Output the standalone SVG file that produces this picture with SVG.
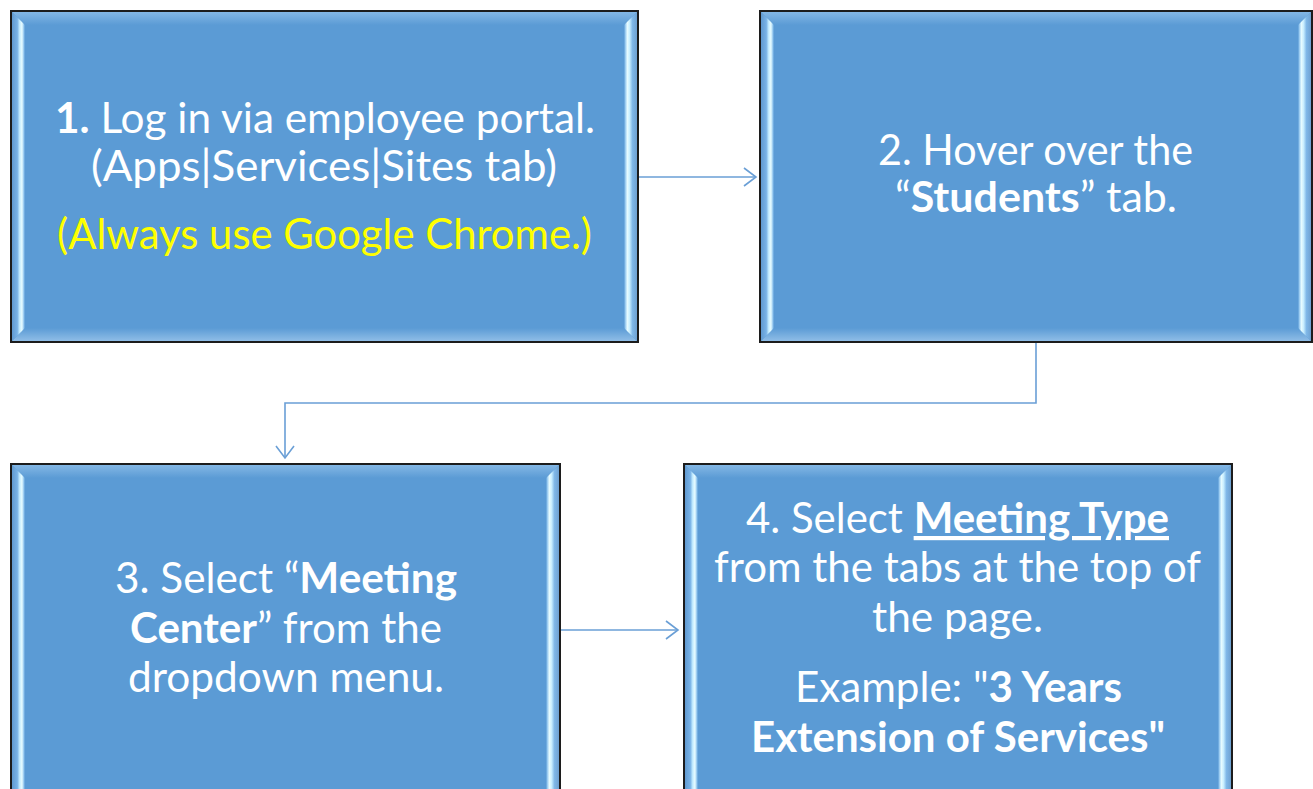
<svg xmlns="http://www.w3.org/2000/svg" width="1313" height="789" viewBox="0 0 1313 789">
  <defs>
    <linearGradient id="gL" x1="0" y1="0" x2="1" y2="0">
      <stop offset="0" stop-color="#5c95cc"/>
      <stop offset="0.45" stop-color="#78b2e6"/>
      <stop offset="0.62" stop-color="#c4ecff"/>
      <stop offset="0.78" stop-color="#e8fcff"/>
      <stop offset="0.92" stop-color="#8fc4ee"/>
      <stop offset="1" stop-color="#5b9bd5"/>
    </linearGradient>
    <linearGradient id="gR" x1="1" y1="0" x2="0" y2="0">
      <stop offset="0" stop-color="#6a9ccc"/>
      <stop offset="0.4" stop-color="#80b8e8"/>
      <stop offset="0.6" stop-color="#c8eeff"/>
      <stop offset="0.76" stop-color="#e8fcff"/>
      <stop offset="0.92" stop-color="#8fc4ee"/>
      <stop offset="1" stop-color="#5b9bd5"/>
    </linearGradient>
    <linearGradient id="gT" x1="0" y1="0" x2="0" y2="1">
      <stop offset="0" stop-color="#86b9e6"/>
      <stop offset="1" stop-color="#5b9bd5"/>
    </linearGradient>
    <linearGradient id="gB" x1="0" y1="1" x2="0" y2="0">
      <stop offset="0" stop-color="#93c0e8"/>
      <stop offset="1" stop-color="#5b9bd5"/>
    </linearGradient>
    <marker id="arr" markerWidth="16" markerHeight="20" refX="14" refY="10" orient="auto" markerUnits="userSpaceOnUse">
      <path d="M2,1 L14,10 L2,19" fill="none" stroke="#6a9fd6" stroke-width="1.6"/>
    </marker>
  </defs>
  <style>
    .base{fill:#5b9bd5;}
    .frame{fill:none;stroke:#1c1c1c;stroke-width:2;}
    .t{font-family:"Lato","Open Sans","Liberation Sans",sans-serif;font-size:42px;fill:#ffffff;}
    .y{fill:#ffff00;}
    .b{font-weight:bold;}
    .u{text-decoration:underline;}
    .conn{fill:none;stroke:#6a9fd6;stroke-width:1.6;}
  </style>
  <rect width="1313" height="789" fill="#ffffff"/>

  <g id="connectors">
    <path class="conn" d="M639,177 L756,177" marker-end="url(#arr)"/>
    <path class="conn" d="M1036,343 L1036,403 L285,403 L285,458" marker-end="url(#arr)"/>
    <path class="conn" d="M561,630 L678,630" marker-end="url(#arr)"/>
  </g>

  <g id="node1">
    <rect class="base" x="11" y="11" width="627" height="331"/>
    <polygon fill="url(#gT)" points="11,11 638,11 624,25 25,25"/>
    <polygon fill="url(#gB)" points="11,342 638,342 624,328 25,328"/>
    <polygon fill="url(#gL)" points="11,11 25,25 25,328 11,342"/>
    <polygon fill="url(#gR)" points="638,11 624,25 624,328 638,342"/>
    <rect class="frame" x="11" y="11" width="627" height="331"/>
    <text class="t" x="55" y="133" textLength="540" lengthAdjust="spacingAndGlyphs"><tspan class="b">1.</tspan> Log in via employee portal.</text>
    <text class="t" x="91" y="181" textLength="466" lengthAdjust="spacingAndGlyphs">(Apps|Services|Sites tab)</text>
    <text class="t y" x="57" y="249" textLength="535" lengthAdjust="spacingAndGlyphs">(Always use Google Chrome.)</text>
  </g>

  <g id="node2">
    <rect class="base" x="760" y="11" width="552" height="331"/>
    <polygon fill="url(#gT)" points="760,11 1312,11 1298,25 774,25"/>
    <polygon fill="url(#gB)" points="760,342 1312,342 1298,328 774,328"/>
    <polygon fill="url(#gL)" points="760,11 774,25 774,328 760,342"/>
    <polygon fill="url(#gR)" points="1312,11 1298,25 1298,328 1312,342"/>
    <rect class="frame" x="760" y="11" width="552" height="331"/>
    <text class="t" x="878" y="165" textLength="315" lengthAdjust="spacingAndGlyphs">2. Hover over the</text>
    <text class="t" x="895" y="212" textLength="282" lengthAdjust="spacingAndGlyphs">“<tspan class="b">Students</tspan>” tab.</text>
  </g>

  <g id="node3">
    <rect class="base" x="11" y="464" width="549" height="340"/>
    <polygon fill="url(#gT)" points="11,464 560,464 546,478 25,478"/>
    <polygon fill="url(#gL)" points="11,464 25,478 25,790 11,804"/>
    <polygon fill="url(#gR)" points="560,464 546,478 546,790 560,804"/>
    <rect class="frame" x="11" y="464" width="549" height="340"/>
    <text class="t" x="115" y="593" textLength="342" lengthAdjust="spacingAndGlyphs">3. Select “<tspan class="b">Meeting</tspan></text>
    <text class="t" x="130" y="643" textLength="312" lengthAdjust="spacingAndGlyphs"><tspan class="b">Center</tspan>” from the</text>
    <text class="t" x="128" y="692" textLength="316" lengthAdjust="spacingAndGlyphs">dropdown menu.</text>
  </g>

  <g id="node4">
    <rect class="base" x="684" y="464" width="548" height="340"/>
    <polygon fill="url(#gT)" points="684,464 1232,464 1218,478 698,478"/>
    <polygon fill="url(#gL)" points="684,464 698,478 698,790 684,804"/>
    <polygon fill="url(#gR)" points="1232,464 1218,478 1218,790 1232,804"/>
    <rect class="frame" x="684" y="464" width="548" height="340"/>
    <text class="t" x="746" y="533" textLength="423" lengthAdjust="spacingAndGlyphs">4. Select <tspan class="b u">Meeting Type</tspan></text>
    <text class="t" x="714" y="582" textLength="487" lengthAdjust="spacingAndGlyphs">from the tabs at the top of</text>
    <text class="t" x="872" y="632" textLength="171" lengthAdjust="spacingAndGlyphs">the page.</text>
    <text class="t" x="795" y="702" textLength="327" lengthAdjust="spacingAndGlyphs">Example: "<tspan class="b">3 Years</tspan></text>
    <text class="t b" x="751" y="752" textLength="414" lengthAdjust="spacingAndGlyphs">Extension of Services"</text>
  </g>
</svg>
